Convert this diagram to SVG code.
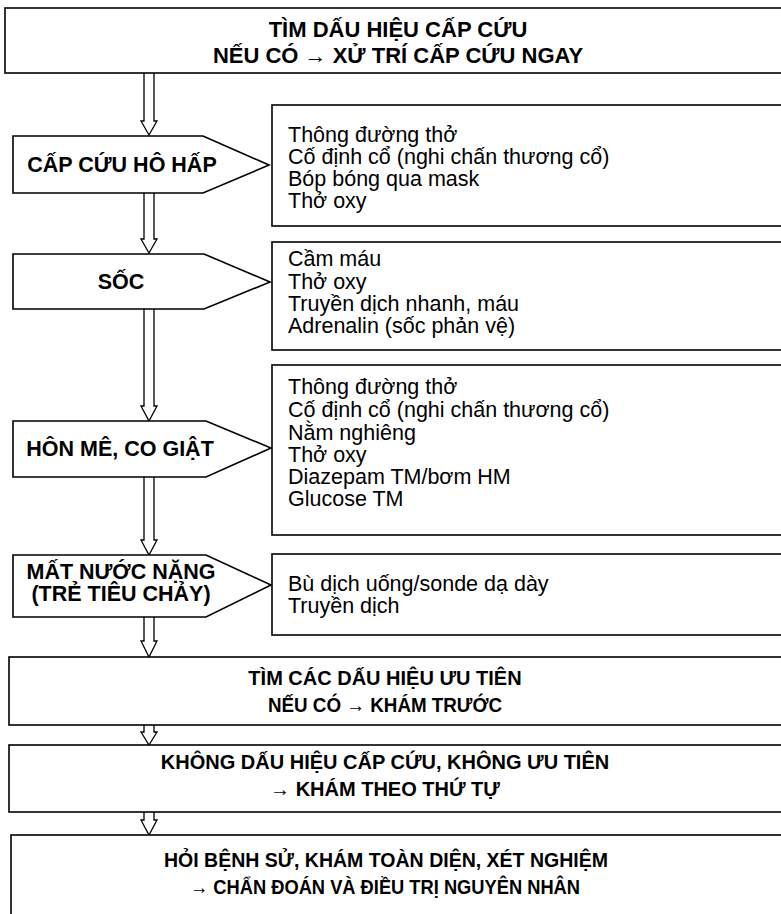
<svg xmlns="http://www.w3.org/2000/svg" width="781" height="914" viewBox="0 0 781 914">
<style>
.box{fill:#fff;stroke:#000;stroke-width:1.6}
.arr{fill:#fff;stroke:#000;stroke-width:1.3;stroke-linejoin:miter}
.hd{font-family:"Liberation Sans",Arial,sans-serif;font-weight:bold;font-size:22px;text-anchor:middle;fill:#000}
.hd2{font-family:"Liberation Sans",Arial,sans-serif;font-weight:bold;font-size:20px;text-anchor:middle;fill:#000}
.pt{font-family:"Liberation Sans",Arial,sans-serif;font-weight:bold;font-size:21.5px;text-anchor:middle;fill:#000}
.tx{font-family:"Liberation Sans",Arial,sans-serif;font-size:21.5px;fill:#000}
</style>
<rect width="781" height="914" fill="#fff"/>
<g id="connectors">
<path class="arr" d="M144,73 V121 H141 L149,135 L157,121 H154 V73"/>
<path class="arr" d="M144,193 V239 H141 L149,253 L157,239 H154 V193"/>
<path class="arr" d="M144,309 V406 H141 L149,421 L157,406 H154 V309"/>
<path class="arr" d="M144,477 V540 H141 L149,555 L157,540 H154 V477"/>
<path class="arr" d="M144,617 V641 H141 L149,657 L157,641 H154 V617"/>
<path class="arr" d="M144,725 V732 H141 L149,745 L157,732 H154 V725"/>
<path class="arr" d="M144,812 V820 H141 L149,835 L157,820 H154 V812"/>
</g>
<g id="n-top">
<rect class="box" x="5" y="8" width="800" height="65"/>
<text class="hd" x="398" y="36.5">TÌM DẤU HIỆU CẤP CỨU</text>
<text class="hd" x="398" y="62.5">NẾU CÓ → XỬ TRÍ CẤP CỨU NGAY</text>
</g>
<g id="n-hohap">
<polygon class="box" points="13,136 203,136 269,165 203,193 13,193"/>
<text class="pt" x="122" y="172">CẤP CỨU HÔ HẤP</text>
</g>
<g id="n-hohap-tx">
<rect class="box" x="272" y="105" width="530" height="121"/>
<text class="tx" x="288" y="142">Thông đường thở</text>
<text class="tx" x="288" y="164">Cố định cổ (nghi chấn thương cổ)</text>
<text class="tx" x="288" y="186">Bóp bóng qua mask</text>
<text class="tx" x="288" y="208">Thở oxy</text>
</g>
<g id="n-soc">
<polygon class="box" points="13,254 204,254 270,282 204,309 13,309"/>
<text class="pt" x="121" y="289">SỐC</text>
</g>
<g id="n-soc-tx">
<rect class="box" x="272" y="242" width="530" height="108"/>
<text class="tx" x="288" y="266">Cầm máu</text>
<text class="tx" x="288" y="289">Thở oxy</text>
<text class="tx" x="288" y="311">Truyền dịch nhanh, máu</text>
<text class="tx" x="288" y="333">Adrenalin (sốc phản vệ)</text>
</g>
<g id="n-honme">
<polygon class="box" points="13,421 206,421 271,448 206,477 13,477"/>
<text class="pt" x="120" y="456">HÔN MÊ, CO GIẬT</text>
</g>
<g id="n-honme-tx">
<rect class="box" x="272" y="365" width="530" height="170"/>
<text class="tx" x="288" y="394">Thông đường thở</text>
<text class="tx" x="288" y="417">Cố định cổ (nghi chấn thương cổ)</text>
<text class="tx" x="288" y="440">Nằm nghiêng</text>
<text class="tx" x="288" y="462">Thở oxy</text>
<text class="tx" x="288" y="484">Diazepam TM/bơm HM</text>
<text class="tx" x="288" y="506">Glucose TM</text>
</g>
<g id="n-matnuoc">
<polygon class="box" points="13,555 206,555 271,585 206,617 13,617"/>
<text class="pt" x="121" y="579">MẤT NƯỚC NẶNG</text>
<text class="pt" x="121" y="601">(TRẺ TIÊU CHẢY)</text>
</g>
<g id="n-matnuoc-tx">
<rect class="box" x="272" y="554" width="530" height="81"/>
<text class="tx" x="288" y="591">Bù dịch uống/sonde dạ dày</text>
<text class="tx" x="288" y="613">Truyền dịch</text>
</g>
<g id="n-uutien">
<rect class="box" x="9" y="657" width="800" height="68"/>
<text class="hd2" x="385" y="685">TÌM CÁC DẤU HIỆU ƯU TIÊN</text>
<text class="hd2" x="385" y="712" textLength="234" lengthAdjust="spacingAndGlyphs">NẾU CÓ → KHÁM TRƯỚC</text>
</g>
<g id="n-thutu">
<rect class="box" x="9" y="745" width="800" height="67"/>
<text class="hd2" x="385" y="769">KHÔNG DẤU HIỆU CẤP CỨU, KHÔNG ƯU TIÊN</text>
<text class="hd2" x="385" y="796">→ KHÁM THEO THỨ TỰ</text>
</g>
<g id="n-toandien">
<rect class="box" x="11" y="835" width="800" height="100"/>
<text class="hd2" x="386" y="867" textLength="444" lengthAdjust="spacingAndGlyphs">HỎI BỆNH SỬ, KHÁM TOÀN DIỆN, XÉT NGHIỆM</text>
<text class="hd2" x="385" y="894" textLength="390" lengthAdjust="spacingAndGlyphs">→ CHẨN ĐOÁN VÀ ĐIỀU TRỊ NGUYÊN NHÂN</text>
</g>
</svg>
